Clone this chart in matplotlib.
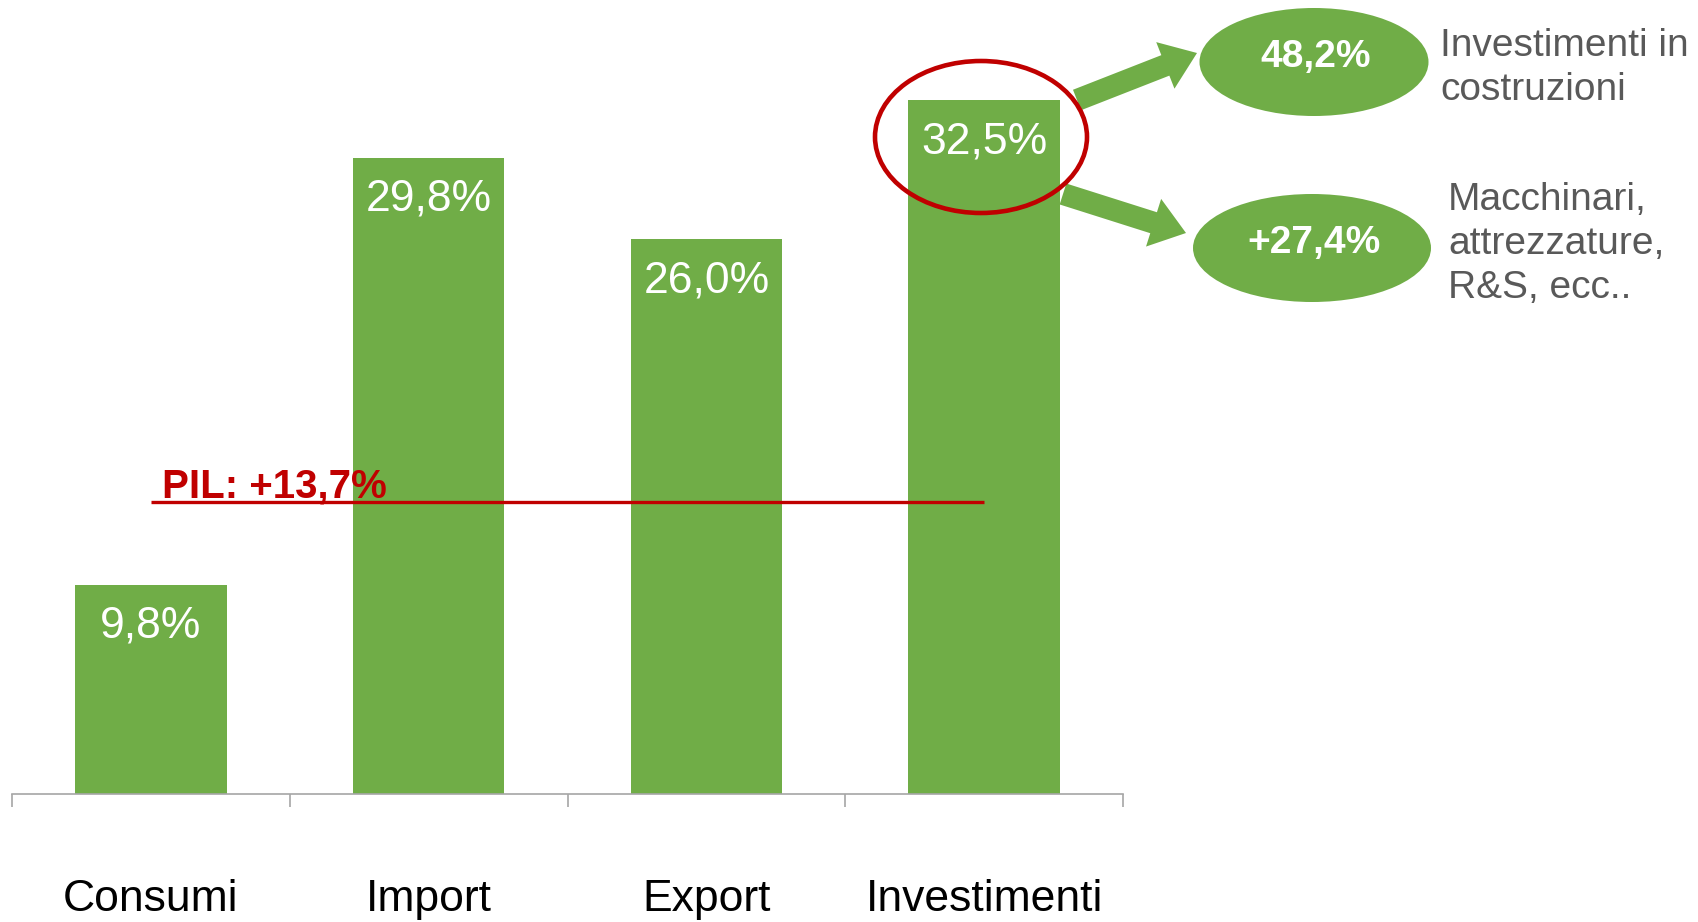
import numpy as np
import matplotlib
matplotlib.use('Agg')
import matplotlib.pyplot as plt
from matplotlib.patches import Ellipse, FancyArrow

plt.rcParams['font.family'] = ['Liberation Sans', 'DejaVu Sans']

# Dati
categorie = ['Consumi', 'Import', 'Export', 'Investimenti']
valori = [9.8, 29.8, 26.0, 32.5]
etichette = ['9,8%', '29,8%', '26,0%', '32,5%']
pil = 13.7
pil_testo = 'PIL: +13,7%'
dettaglio_valori = ['48,2%', '+27,4%']
dettaglio_testi = ['Investimenti in\ncostruzioni', 'Macchinari,\nattrezzature,\nR&S, ecc..']

verde = '#70AD47'
rosso = '#C00000'
grigio = '#595959'

fig = plt.figure(figsize=(16.98, 9.22), dpi=100)

# Asse principale (pixel: x 12..1123, y=0 a 794 dall'alto)
ax = fig.add_axes([12 / 1698, 128 / 922, 1111 / 1698, 794 / 922])
x = np.arange(len(categorie))
ax.bar(x, valori, width=0.545, color=verde, zorder=2)
ax.set_xlim(-0.5, 3.5)
ax.set_ylim(0, 37.19)

for xi, v, lab in zip(x, valori, etichette):
    ax.text(xi, v - 1.95, lab, ha='center', va='center', color='white', fontsize=32, zorder=3)

# Linea del PIL
ax.hlines(pil, 0, 3, color=rosso, lw=2.4, zorder=4)
ax.text(0.04, pil + 0.2, pil_testo, ha='left', va='baseline', color=rosso,
        fontsize=29, fontweight='bold', zorder=5)

# Assi
for s in ['top', 'left', 'right']:
    ax.spines[s].set_visible(False)
ax.spines['bottom'].set_color('#A6A6A6')
ax.spines['bottom'].set_linewidth(1.2)
ax.set_yticks([])
ax.set_xticks(x)
ax.set_xticklabels(categorie, fontsize=32)
ax.tick_params(axis='x', which='major', length=0, pad=61)
ax.set_xticks(np.arange(-0.5, 4, 1), minor=True)
ax.tick_params(axis='x', which='minor', length=9.5, color='#A6A6A6', width=1.2)
ax.patch.set_alpha(0)

# Livello delle annotazioni (coordinate in pixel)
ov = fig.add_axes([0, 0, 1, 1])
ov.set_xlim(0, 1698)
ov.set_ylim(922, 0)
ov.axis('off')
ov.patch.set_alpha(0)

# Frecce
for (x0, y0, x1, y1) in [(1077, 100, 1197, 53), (1063, 194, 1186, 233)]:
    ov.add_patch(FancyArrow(x0, y0, x1 - x0, y1 - y0, width=22, head_width=50,
                            head_length=34, length_includes_head=True,
                            color=verde, lw=0))

# Ellissi verdi con i valori
ov.add_patch(Ellipse((1314, 62), 229, 108, color=verde, lw=0))
ov.add_patch(Ellipse((1312, 248), 238, 108, color=verde, lw=0))
ov.text(1316, 57, dettaglio_valori[0], ha='center', va='center', color='white',
        fontsize=28, fontweight='bold')
ov.text(1314, 243, dettaglio_valori[1], ha='center', va='center', color='white',
        fontsize=28, fontweight='bold')

# Testi a destra
ov.text(1440, 68, dettaglio_testi[0], ha='left', va='center', color=grigio,
        fontsize=28, linespacing=1.27)
ov.text(1448, 244, dettaglio_testi[1], ha='left', va='center', color=grigio,
        fontsize=28, linespacing=1.28)

# Cerchio rosso attorno a Investimenti
ov.add_patch(Ellipse((981, 137), 212, 152, fill=False, edgecolor=rosso, lw=3.3))

fig.savefig('out.png', dpi=100)
